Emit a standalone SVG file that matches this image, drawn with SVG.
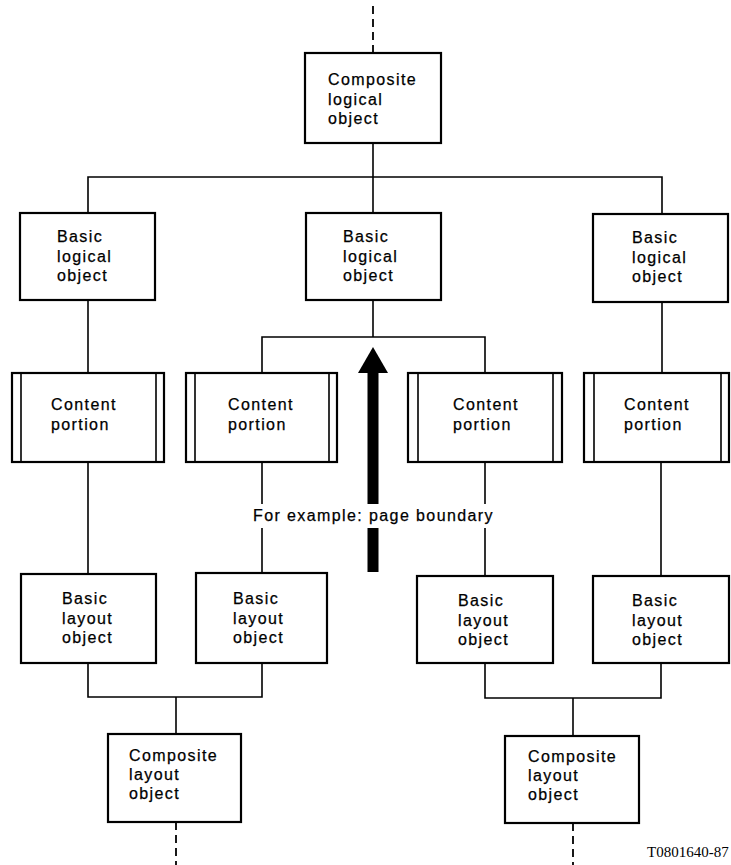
<svg xmlns="http://www.w3.org/2000/svg" width="731" height="865" viewBox="0 0 731 865">
<style>
.box{fill:#fff;stroke:#000;stroke-width:2.2}
.in{stroke:#000;stroke-width:1.6;fill:none}
.ln{stroke:#000;stroke-width:1.6;fill:none}
.dash{stroke:#000;stroke-width:1.8;fill:none;stroke-dasharray:8 5}
.t{font-family:"Liberation Sans",Arial,Helvetica,sans-serif;font-size:16px;letter-spacing:1.4px;fill:#000;stroke:#000;stroke-width:0.25}
.id{font-family:"Liberation Serif","Times New Roman",serif;font-size:15px;fill:#000}
</style>
<rect width="731" height="865" fill="#fff"/>
<g id="connectors">
  <path class="dash" d="M373 6V53"/>
  <path class="ln" d="M373 143V213"/>
  <path class="ln" d="M88 213V177H662V213"/>
  <path class="ln" d="M373 300V337"/>
  <path class="ln" d="M262 373V337H485V373"/>
  <path class="ln" d="M88 300V373"/>
  <path class="ln" d="M662 302V373"/>
  <path class="ln" d="M88 462V574"/>
  <path class="ln" d="M262 462V504M262 528V573"/>
  <path class="ln" d="M485 462V504M485 528V576"/>
  <path class="ln" d="M661 462V576"/>
  <path class="ln" d="M88 663V697H262V663"/>
  <path class="ln" d="M176 697V734"/>
  <path class="ln" d="M485 663V698H661V663"/>
  <path class="ln" d="M573 698V736"/>
  <path class="dash" d="M176 822V865"/>
  <path class="dash" d="M573 823V865"/>
</g>
<g id="boundary-arrow">
  <polygon points="373,347 388,373 358,373" fill="#000"/>
  <rect x="367.5" y="372" width="11" height="132" fill="#000"/>
  <rect x="367.5" y="528" width="11" height="44" fill="#000"/>
  <text class="t" x="253" y="521">For example: page boundary</text>
</g>
<g id="composite-logical">
  <rect class="box" x="305" y="53" width="136" height="90"/>
  <text class="t" x="328" y="85">Composite</text>
  <text class="t" x="328" y="104.5">logical</text>
  <text class="t" x="328" y="124">object</text>
</g>
<g id="basic-logical-1">
  <rect class="box" x="20" y="213" width="135" height="87"/>
  <text class="t" x="57" y="242">Basic</text>
  <text class="t" x="57" y="261.5">logical</text>
  <text class="t" x="57" y="281">object</text>
</g>
<g id="basic-logical-2">
  <rect class="box" x="306" y="213" width="135" height="87"/>
  <text class="t" x="343" y="242">Basic</text>
  <text class="t" x="343" y="261.5">logical</text>
  <text class="t" x="343" y="281">object</text>
</g>
<g id="basic-logical-3">
  <rect class="box" x="593" y="214" width="135" height="88"/>
  <text class="t" x="632" y="243">Basic</text>
  <text class="t" x="632" y="262.5">logical</text>
  <text class="t" x="632" y="282">object</text>
</g>
<g id="content-1">
  <rect class="box" x="12" y="373" width="152" height="89"/>
  <path class="in" d="M21 373V462M156 373V462"/>
  <text class="t" x="51" y="410">Content</text>
  <text class="t" x="51" y="429.5">portion</text>
</g>
<g id="content-2">
  <rect class="box" x="186" y="373" width="151" height="89"/>
  <path class="in" d="M195 373V462M329 373V462"/>
  <text class="t" x="228" y="410">Content</text>
  <text class="t" x="228" y="429.5">portion</text>
</g>
<g id="content-3">
  <rect class="box" x="408" y="373" width="154" height="89"/>
  <path class="in" d="M418 373V462M553 373V462"/>
  <text class="t" x="453" y="410">Content</text>
  <text class="t" x="453" y="429.5">portion</text>
</g>
<g id="content-4">
  <rect class="box" x="584" y="373" width="145" height="89"/>
  <path class="in" d="M594 373V462M721 373V462"/>
  <text class="t" x="624" y="410">Content</text>
  <text class="t" x="624" y="429.5">portion</text>
</g>
<g id="basic-layout-1">
  <rect class="box" x="21" y="574" width="135" height="89"/>
  <text class="t" x="62" y="604">Basic</text>
  <text class="t" x="62" y="623.5">layout</text>
  <text class="t" x="62" y="643">object</text>
</g>
<g id="basic-layout-2">
  <rect class="box" x="196" y="573" width="131" height="90"/>
  <text class="t" x="233" y="604">Basic</text>
  <text class="t" x="233" y="623.5">layout</text>
  <text class="t" x="233" y="643">object</text>
</g>
<g id="basic-layout-3">
  <rect class="box" x="417" y="576" width="136" height="87"/>
  <text class="t" x="458" y="606">Basic</text>
  <text class="t" x="458" y="625.5">layout</text>
  <text class="t" x="458" y="645">object</text>
</g>
<g id="basic-layout-4">
  <rect class="box" x="593" y="576" width="136" height="87"/>
  <text class="t" x="632" y="606">Basic</text>
  <text class="t" x="632" y="625.5">layout</text>
  <text class="t" x="632" y="645">object</text>
</g>
<g id="composite-layout-1">
  <rect class="box" x="108" y="734" width="133" height="88"/>
  <text class="t" x="129" y="761">Composite</text>
  <text class="t" x="129" y="780">layout</text>
  <text class="t" x="129" y="799">object</text>
</g>
<g id="composite-layout-2">
  <rect class="box" x="505" y="736" width="134" height="87"/>
  <text class="t" x="528" y="762">Composite</text>
  <text class="t" x="528" y="781">layout</text>
  <text class="t" x="528" y="800">object</text>
</g>
<text class="id" x="647" y="857">T0801640-87</text>
</svg>
